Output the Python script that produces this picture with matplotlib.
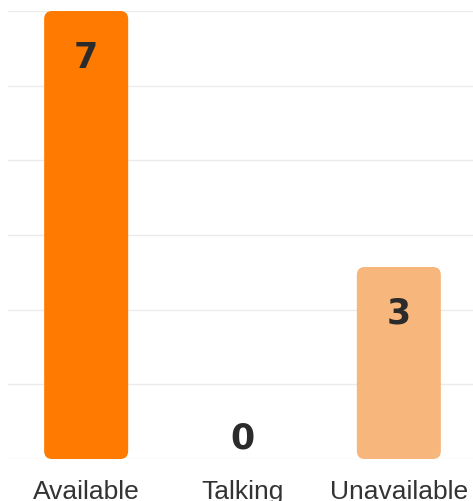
import matplotlib
matplotlib.use("Agg")
import matplotlib.pyplot as plt
from matplotlib.patches import FancyBboxPatch
import numpy as np

categories = ["Available", "Talking", "Unavailable"]
values = [7, 0, 3]
colors = ["#FF7A00", "#FF7A00", "#F7B67B"]

W, H = 473, 502
fig = plt.figure(figsize=(W/100, H/100), dpi=100)
left_px, right_px, top_px, base_px = 8, 477, 12, 460
ax = fig.add_axes([left_px/W, (H-base_px)/H, (right_px-left_px)/W, (base_px-top_px)/H])

x = np.arange(len(categories))
bw = 84/156.3
ax.set_xlim(-0.5, 2.5)
ax.set_ylim(0, 7)
ax.set_yticks(np.linspace(0, 7, 7))
ax.yaxis.grid(True, color="#ebebeb", linewidth=1)
ax.set_axisbelow(True)
for s in ax.spines.values():
    s.set_visible(False)
ax.tick_params(left=False, bottom=False, labelleft=False)
ax.set_xticks(x)
ax.set_xticklabels(categories, fontsize=19, color="#333333", family="Liberation Sans")
ax.tick_params(axis="x", pad=11)

px_x = (right_px-left_px)/3
px_y = (base_px-top_px)/7
r = 8/px_x
aspect = px_x/px_y
bars = ax.bar(x, values, width=bw, color="none")
for b, c, v in zip(bars, colors, values):
    if v > 0:
        p = FancyBboxPatch((b.get_x(), 0), bw, v,
                           boxstyle=f"round,pad=0,rounding_size={r}",
                           mutation_aspect=aspect, facecolor=c, edgecolor="none")
        ax.add_patch(p)
        ax.annotate(str(v), (b.get_x()+bw/2, v), xytext=(0, -46), textcoords="offset pixels",
                    ha="center", va="center", fontsize=25, fontweight="bold",
                    color="#2b2b2b", family="DejaVu Sans")
    else:
        ax.annotate(str(v), (b.get_x()+bw/2, 0), xytext=(0, 21), textcoords="offset pixels",
                    ha="center", va="center", fontsize=25, fontweight="bold",
                    color="#2b2b2b", family="DejaVu Sans")

fig.savefig("out.png", dpi=100)
